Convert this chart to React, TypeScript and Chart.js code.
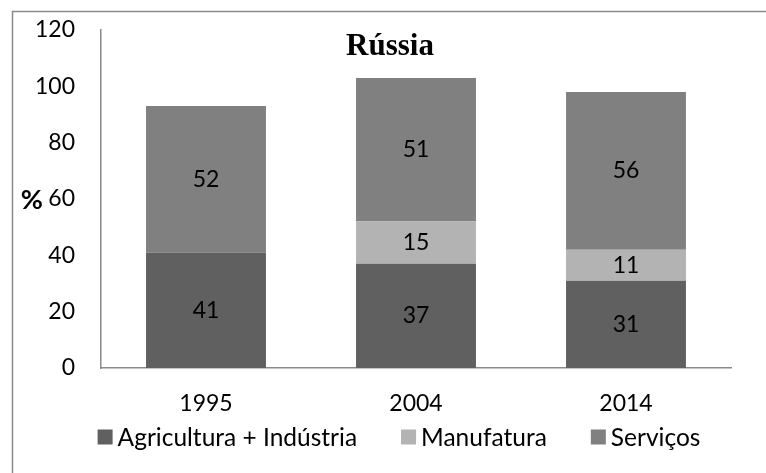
import React, { useEffect, useRef } from "react";
import { Chart, registerables } from "chart.js";

Chart.register(...registerables);

const categories = ["1995", "2004", "2014"];
const agriculturaIndustria = [41, 37, 31];
const manufatura = [0, 15, 11];
const servicos = [52, 51, 56];
const yTicks = [0, 20, 40, 60, 80, 100, 120];

const FONT = "Lato, 'Open Sans', sans-serif";

const framePlugin = {
  id: "frame",
  beforeDraw(chart: any) {
    const ctx = chart.ctx;
    ctx.save();
    ctx.fillStyle = "#ffffff";
    ctx.fillRect(0, 0, chart.width, chart.height);
    ctx.strokeStyle = "#8a8a8a";
    ctx.lineWidth = 1.5;
    ctx.beginPath();
    ctx.moveTo(12.5, chart.height + 5);
    ctx.lineTo(12.5, 11.5);
    ctx.lineTo(chart.width + 5, 11.5);
    ctx.stroke();
    ctx.restore();
  },
};

const textPlugin = {
  id: "texts",
  afterDatasetsDraw(chart: any) {
    const ctx = chart.ctx;
    ctx.save();
    // data labels
    ctx.fillStyle = "#000000";
    ctx.font = `23px ${FONT}`;
    ctx.textAlign = "center";
    ctx.textBaseline = "middle";
    chart.data.datasets.forEach((ds: any, i: number) => {
      const meta = chart.getDatasetMeta(i);
      meta.data.forEach((el: any, j: number) => {
        const v = ds.data[j];
        if (!v) return;
        ctx.fillText(String(v), el.x, (el.y + el.base) / 2);
      });
    });
    // title
    ctx.font = `bold 31px 'Liberation Serif', 'Times New Roman', serif`;
    ctx.textAlign = "center";
    ctx.textBaseline = "middle";
    ctx.fillText("Rússia", chart.width / 2 + 7, 47);
    // y axis title
    const y = chart.scales.y;
    ctx.font = `bold 27px ${FONT}`;
    ctx.textAlign = "right";
    ctx.fillText("%", 43, y.getPixelForValue(60) + 1);
    ctx.restore();
  },
  afterDraw(chart: any) {
    // legend built from the datasets
    const ctx = chart.ctx;
    ctx.save();
    ctx.font = `24.5px ${FONT}`;
    ctx.textBaseline = "middle";
    ctx.textAlign = "left";
    const box = 15, gapText = 5, gapItem = 44;
    const items = chart.data.datasets.map((ds: any) => ({
      text: ds.label,
      color: ds.backgroundColor,
      w: ctx.measureText(ds.label).width,
    }));
    const total = items.reduce((a: number, it: any) => a + box + gapText + it.w, 0) + gapItem * (items.length - 1);
    let x = chart.width / 2 + 16 - total / 2;
    const yc = 437;
    items.forEach((it: any) => {
      ctx.fillStyle = it.color;
      ctx.fillRect(x, yc - box / 2, box, box);
      ctx.fillStyle = "#000";
      ctx.fillText(it.text, x + box + gapText, yc + 1);
      x += box + gapText + it.w + gapItem;
    });
    ctx.restore();
  },
};

export default function App() {
  const ref = useRef<HTMLCanvasElement | null>(null);
  useEffect(() => {
    if (!ref.current) return;
    const chart = new Chart(ref.current, {
      type: "bar",
      data: {
        labels: categories,
        datasets: [
          { label: "Agricultura + Indústria", data: agriculturaIndustria, backgroundColor: "#606060" },
          { label: "Manufatura", data: manufatura, backgroundColor: "#b3b3b3" },
          { label: "Serviços", data: servicos, backgroundColor: "#808080" },
        ],
      },
      options: {
        animation: false,
        responsive: false,
        maintainAspectRatio: false,
        layout: { padding: { left: 0, right: 35, top: 30, bottom: 45 } },
        datasets: { bar: { categoryPercentage: 1, barPercentage: 0.571 } },
        scales: {
          x: {
            stacked: true,
            grid: { display: false, drawTicks: false },
            border: { display: true, color: "#8a8a8a", width: 1.5 },
            ticks: { color: "#000", font: { family: FONT, size: 23 }, padding: 22 },
            afterFit: (s: any) => { s.height = 60; },
          },
          y: {
            stacked: true,
            min: 0,
            max: 120,
            afterBuildTicks: (s: any) => { s.ticks = yTicks.map((v) => ({ value: v })); },
            grid: { display: false, drawTicks: false },
            border: { display: true, color: "#8a8a8a", width: 1.5 },
            ticks: { color: "#000", font: { family: FONT, size: 23 }, padding: 26 },
            afterFit: (s: any) => { s.width = 101; s.paddingTop = 0; s.paddingBottom = 0; },
          },
        },
        plugins: {
          legend: { display: false },
          tooltip: { enabled: false },
          title: { display: false },
        },
      },
      plugins: [framePlugin, textPlugin],
    });
    return () => chart.destroy();
  }, []);
  return (
    <div style={{ position: "absolute", left: 0, top: 0, width: 766, height: 473 }}>
      <canvas ref={ref} width={766} height={473} style={{ display: "block" }} />
    </div>
  );
}
